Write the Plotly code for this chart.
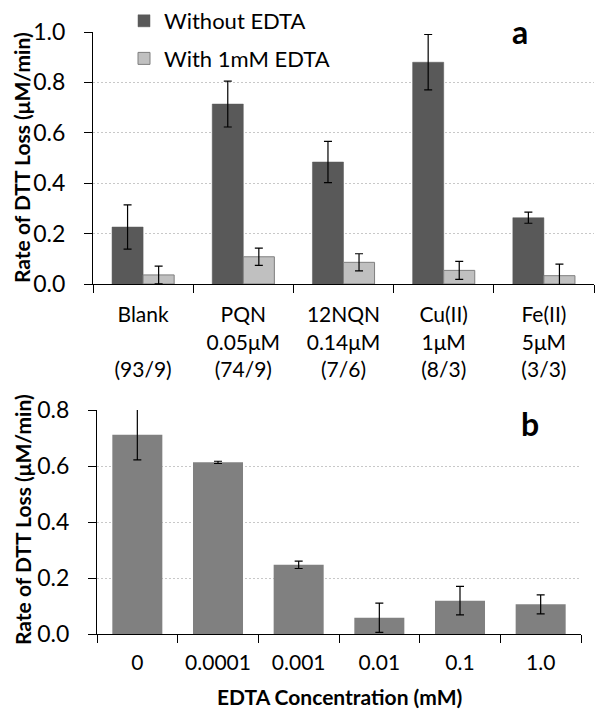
import plotly.graph_objects as go

# ---- Panel a data ----
cat_a = ["Blank", "PQN", "12NQN", "Cu(II)", "Fe(II)"]
tick_a = ["Blank<br> <br>(93/9)", "PQN<br>0.05μM<br>(74/9)", "12NQN<br>0.14μM<br>(7/6)",
          "Cu(II)<br>1μM<br>(8/3)", "Fe(II)<br>5μM<br>(3/3)"]
without_edta = [0.226, 0.714, 0.484, 0.880, 0.263]
without_err = [0.088, 0.091, 0.082, 0.110, 0.022]
with_edta = [0.036, 0.108, 0.086, 0.054, 0.033]
with_err = [0.035, 0.034, 0.034, 0.036, 0.046]

# ---- Panel b data ----
cat_b = ["0", "0.0001", "0.001", "0.01", "0.1", "1.0"]
rate_b = [0.712, 0.613, 0.247, 0.058, 0.119, 0.106]
err_b = [0.090, 0.004, 0.013, 0.052, 0.051, 0.034]

FONT = "Lato"
W, H = 604, 717
OFF = 8  # page body margin

fig = go.Figure()
fig.add_trace(go.Bar(x=cat_a, y=without_edta, name="Without EDTA",
                     marker=dict(color="#595959", line=dict(color="#595959", width=0.5)),
                     error_y=dict(type="data", array=without_err, color="black", thickness=1.2, width=4),
                     xaxis="x", yaxis="y", legendgroup="g1"))
fig.add_trace(go.Bar(x=cat_a, y=with_edta, name="With 1mM EDTA",
                     marker=dict(color="#C0C0C0", line=dict(color="#7F7F7F", width=1)),
                     error_y=dict(type="data", array=with_err, color="black", thickness=1.2, width=4),
                     xaxis="x", yaxis="y", legendgroup="g2"))
fig.add_trace(go.Bar(x=cat_b, y=rate_b, name="b", showlegend=False,
                     marker=dict(color="#808080", line=dict(width=0)),
                     error_y=dict(type="data", array=err_b, color="black", thickness=1.2, width=4),
                     xaxis="x2", yaxis="y2"))

def px_x(p):
    return (p - OFF) / W

def px_y(p):
    return 1 - (p - OFF) / H

axis_common = dict(showline=True, linecolor="black", linewidth=1, ticks="outside",
                   tickcolor="black", ticklen=8, tickwidth=1, automargin=False)
grid = dict(showgrid=True, gridcolor="#C8C8C8", griddash="2px,2px", gridwidth=1, zeroline=False)

fig.update_layout(
    width=W, height=H, margin=dict(l=0, r=0, t=0, b=0, autoexpand=False),
    paper_bgcolor="white", plot_bgcolor="white",
    barmode="group", bargap=0.38, bargroupgap=0,
    showlegend=True,
    legend=dict(x=px_x(124), y=px_y(0), xanchor="left", yanchor="top",
                font=dict(family=FONT, size=22, color="black"),
                bgcolor="rgba(0,0,0,0)", traceorder="grouped", tracegroupgap=6,
                itemwidth=30),
    xaxis=dict(domain=[px_x(93), px_x(594)], anchor="y", type="category",
               tickson="boundaries", tickmode="array", tickvals=cat_a, ticktext=tick_a,
               ticklabelstandoff=12, tickfont=dict(family=FONT, size=21, color="black"),
               **axis_common),
    yaxis=dict(domain=[px_y(284), px_y(32)], anchor="x", range=[0, 1.0],
               tickvals=[0, 0.2, 0.4, 0.6, 0.8, 1.0], tickformat=".1f",
               tickfont=dict(family=FONT, size=23, color="black"),
               ticklabelstandoff=14, **grid, **axis_common),
    xaxis2=dict(domain=[px_x(97), px_x(581)], anchor="y2", type="category",
                tickson="boundaries", ticklabelstandoff=10,
                tickfont=dict(family=FONT, size=21, color="black"), **axis_common),
    yaxis2=dict(domain=[px_y(634), px_y(410)], anchor="x2", range=[0, 0.8],
                tickvals=[0, 0.2, 0.4, 0.6, 0.8], tickformat=".1f",
                tickfont=dict(family=FONT, size=23, color="black"),
                ticklabelstandoff=14, **grid, **axis_common),
)

title_font = dict(family=FONT, size=21, color="black", weight="bold")
ann = dict(xref="paper", yref="paper", showarrow=False, xanchor="center", yanchor="middle")
fig.add_annotation(text="Rate of DTT Loss (μM/min)", textangle=-90,
                   x=px_x(21), y=px_y(158), font=title_font, **ann)
fig.add_annotation(text="Rate of DTT Loss (μM/min)", textangle=-90,
                   x=px_x(22), y=px_y(520), font=title_font, **ann)
fig.add_annotation(text="EDTA Concentration (mM)",
                   x=px_x(339), y=px_y(696), font=title_font, **ann)
fig.add_annotation(text="a", x=px_x(520), y=px_y(32),
                   font=dict(family=FONT, size=32, color="black", weight="bold"), **ann)
fig.add_annotation(text="b", x=px_x(530), y=px_y(423),
                   font=dict(family=FONT, size=32, color="black", weight="bold"), **ann)

fig.write_html("out.html")
